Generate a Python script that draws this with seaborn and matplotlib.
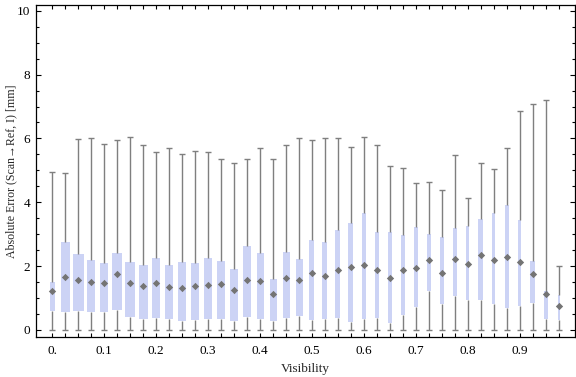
import numpy as np
import pandas as pd
import matplotlib
matplotlib.use("Agg")
import matplotlib.pyplot as plt
from matplotlib.ticker import MultipleLocator, FixedLocator
import seaborn as sns

# Data (Absolute error vs visibility bins)
visibility = [round(0.025 * i, 3) for i in range(40)]
whisker_hi = [4.95, 4.92, 5.97, 6.00, 5.84, 5.94, 6.03, 5.81, 5.59, 5.69,
              5.50, 5.62, 5.59, 5.37, 5.22, 5.37, 5.69, 5.37, 5.78, 6.00,
              5.94, 6.00, 6.00, 5.72, 6.03, 5.81, 5.15, 5.08, 4.59, 4.65,
              4.40, 5.49, 4.15, 5.22, 5.03, 5.69, 6.85, 7.08, 7.20, 1.99]
q3 = [1.50, 2.75, 2.39, 2.18, 2.11, 2.40, 2.12, 2.03, 2.25, 2.05,
      2.12, 2.09, 2.25, 2.15, 1.90, 2.62, 2.40, 1.59, 2.44, 2.22,
      2.81, 2.75, 3.12, 3.35, 3.66, 3.08, 3.06, 2.97, 3.22, 3.00,
      2.90, 3.21, 3.25, 3.49, 3.65, 3.91, 3.46, 2.15, 1.21, 1.09]
median = [1.22, 1.66, 1.56, 1.50, 1.47, 1.74, 1.47, 1.39, 1.48, 1.35,
          1.30, 1.37, 1.41, 1.44, 1.25, 1.57, 1.54, 1.12, 1.63, 1.55,
          1.79, 1.69, 1.87, 1.98, 2.04, 1.87, 1.63, 1.87, 1.93, 2.19,
          1.78, 2.22, 2.06, 2.34, 2.19, 2.29, 2.13, 1.75, 1.12, 0.75]
q1 = [0.60, 0.56, 0.59, 0.56, 0.56, 0.64, 0.41, 0.35, 0.38, 0.35,
      0.28, 0.31, 0.35, 0.35, 0.28, 0.41, 0.35, 0.28, 0.39, 0.44,
      0.30, 0.35, 0.39, 0.25, 0.35, 0.39, 0.22, 0.47, 0.72, 1.22,
      0.80, 1.07, 0.95, 0.94, 0.82, 0.69, 0.75, 0.85, 0.33, 0.30]
whisker_lo = [0.0] * 40

# box widths in pixels as drawn in the original
box_width_px = [5, 9, 11, 8, 8, 10, 10, 9, 8, 8,
                8, 8, 8, 8, 8, 8, 7, 7, 7, 7,
                5, 5, 5, 5, 4, 4, 4, 4, 4, 4,
                4, 4, 3, 5, 3, 4, 3, 5, 4, 2]

box_color = "#CCD3F5"
line_color = "#7F7F7F"

sns.set_style("ticks")
plt.rcParams["font.family"] = ["Liberation Serif", "DejaVu Serif"]

fig = plt.figure(figsize=(5.76, 3.77), dpi=100)
ax = fig.add_axes([36 / 576, 40 / 377, 539 / 576, 332.3 / 377])

xmin, xmax = -0.031, 1.006
px_per_unit = 539 / (xmax - xmin)

for i, v in enumerate(visibility):
    vals = [whisker_lo[i], q1[i], median[i], q3[i], whisker_hi[i]]
    df = pd.DataFrame({"Visibility": [v] * 5, "err": vals})
    sns.boxplot(data=df, x="Visibility", y="err", native_scale=True, orient="x",
                width=box_width_px[i] / px_per_unit, whis=(0, 100),
                color=box_color, saturation=1, linecolor=line_color, linewidth=1,
                boxprops={"edgecolor": "none", "facecolor": box_color},
                capprops={"visible": False}, medianprops={"visible": False},
                showfliers=False, ax=ax)

caps = pd.DataFrame({"Visibility": visibility * 2, "err": whisker_lo + whisker_hi})
sns.scatterplot(data=caps, x="Visibility", y="err", marker="_", s=14,
                color=line_color, linewidth=1, ax=ax, zorder=3)

med = pd.DataFrame({"Visibility": visibility, "err": median})
sns.scatterplot(data=med, x="Visibility", y="err", marker="D", s=14,
                color="#747474", linewidth=0, ax=ax, zorder=4)

ax.set_xlim(xmin, xmax)
ax.set_ylim(-0.22, 10.19)

ax.xaxis.set_major_locator(FixedLocator([0.1 * k for k in range(10)]))
ax.set_xticklabels(["0."] + [f"{0.1 * k:.1f}" for k in range(1, 10)])
ax.xaxis.set_minor_locator(FixedLocator([v for v in visibility if round(v * 40) % 4 != 0]))
ax.yaxis.set_major_locator(MultipleLocator(2))
ax.yaxis.set_minor_locator(MultipleLocator(0.5))

ax.tick_params(axis="both", which="both", direction="in", top=True, right=True,
               width=0.8, colors="black", labelsize=9.5)
ax.tick_params(axis="x", which="both", length=3, pad=6)
ax.tick_params(axis="y", which="major", length=3.4, pad=4)
ax.tick_params(axis="y", which="minor", length=2)
for s in ax.spines.values():
    s.set_linewidth(0.9)
    s.set_color("black")

ax.set_xlabel("Visibility", fontsize=9.5, labelpad=4)
ax.set_ylabel("Absolute Error (Scan\u2192Ref, I) [mm]", fontsize=8.6)
ax.yaxis.set_label_coords(-0.034, 0.5)

fig.savefig("out.png", dpi=100)
